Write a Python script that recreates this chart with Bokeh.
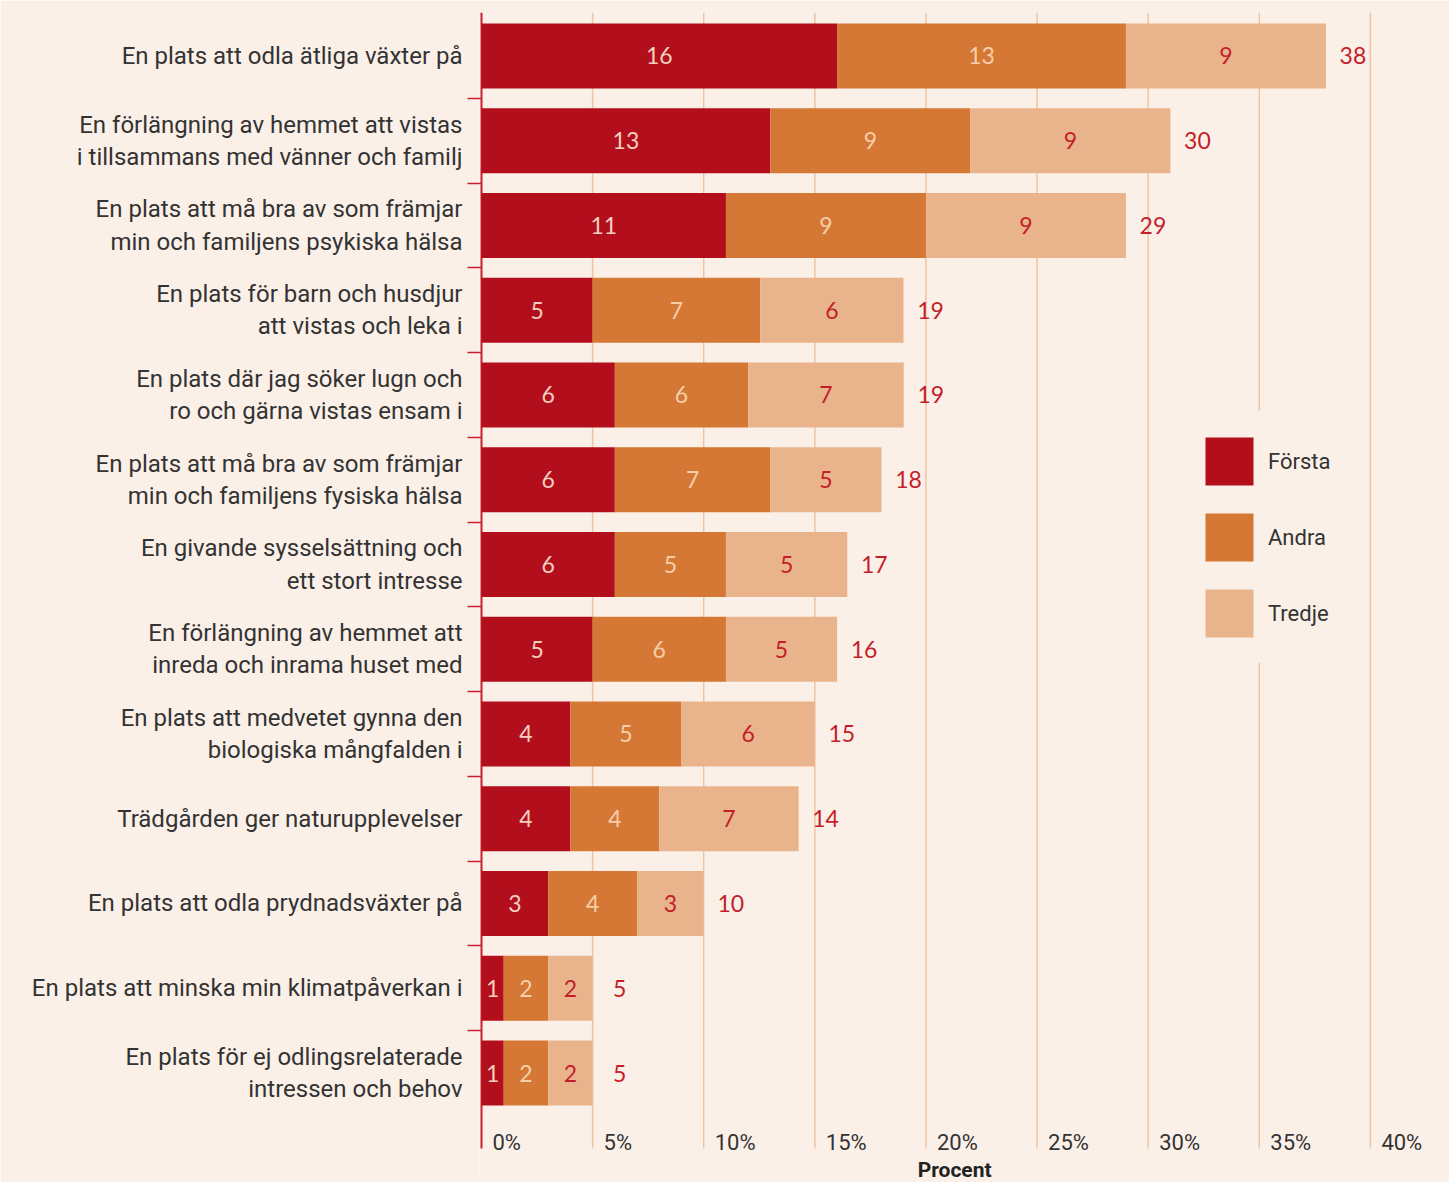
from bokeh.plotting import figure
from bokeh.models import (ColumnDataSource, FixedTicker, Range1d, Legend, LegendItem)
from bokeh.embed import file_html
from bokeh.resources import INLINE
from bokeh.core.properties import value

# ---------------- data ----------------
categories = [
    "En plats att odla ätliga växter på",
    "En förlängning av hemmet att vistas\ni tillsammans med vänner och familj",
    "En plats att må bra av som främjar\nmin och familjens psykiska hälsa",
    "En plats för barn och husdjur\natt vistas och leka i",
    "En plats där jag söker lugn och\nro och gärna vistas ensam i",
    "En plats att må bra av som främjar\nmin och familjens fysiska hälsa",
    "En givande sysselsättning och\nett stort intresse",
    "En förlängning av hemmet att\ninreda och inrama huset med",
    "En plats att medvetet gynna den\nbiologiska mångfalden i",
    "Trädgården ger naturupplevelser",
    "En plats att odla prydnadsväxter på",
    "En plats att minska min klimatpåverkan i",
    "En plats för ej odlingsrelaterade\nintressen och behov",
]
forsta = [16.0, 13.0, 11.0, 5.0, 6.0, 6.0, 6.0, 5.0, 4.0, 4.0, 3.0, 1.0, 1.0]
andra = [13.0, 9.0, 9.0, 7.54, 6.0, 7.0, 5.0, 6.0, 5.0, 4.0, 4.0, 2.0, 2.0]
tredje = [9.0, 9.0, 9.0, 6.45, 7.0, 5.0, 5.46, 5.0, 6.0, 6.27, 3.0, 2.0, 2.0]
forsta_labels = ["16", "13", "11", "5", "6", "6", "6", "5", "4", "4", "3", "1", "1"]
andra_labels = ["13", "9", "9", "7", "6", "7", "5", "6", "5", "4", "4", "2", "2"]
tredje_labels = ["9", "9", "9", "6", "7", "5", "5", "5", "6", "7", "3", "2", "2"]
total_labels = ["38", "30", "29", "19", "19", "18", "17", "16", "15", "14", "10", "5", "5"]
series_names = ["Första", "Andra", "Tredje"]
x_ticks = [0, 5, 10, 15, 20, 25, 30, 35, 40]
x_tick_labels = ["0%", "5%", "10%", "15%", "20%", "25%", "30%", "35%", "40%"]
x_title = "Procent"

# ---------------- style ----------------
BG = "#FBF0E8"
C1, C2, C3 = "#B30E1B", "#D57835", "#E9B48C"
RED_TXT = "#C41E2A"
GRID = "#F0C4A2"
AXIS_RED = "#C8202B"
DARK = "#333333"
SANS = "Roboto"
NUMF = "Lato"

n = len(categories)
ys = list(range(n))
ends2 = [a + b for a, b in zip(forsta, andra)]
ends3 = [a + b + c for a, b, c in zip(forsta, andra, tredje)]

# vertical extent of the plotting band (in row units) and layout helpers
ROW_TOP, ROW_BOTTOM = -0.513, 12.891
TICK_ROW = 12.82
TITLE_ROW = 13.139

src = ColumnDataSource(dict(
    y=ys, forsta=forsta, andra=andra, tredje=tredje,
    c1=[v / 2 for v in forsta],
    c2=[f + a / 2 for f, a in zip(forsta, andra)],
    c3=[e + t / 2 for e, t in zip(ends2, tredje)],
    end=ends3,
    l1=forsta_labels, l2=andra_labels, l3=tredje_labels, lt=total_labels,
))

p = figure(width=1449, height=1182, output_backend="svg", toolbar_location=None,
           x_range=Range1d(-0.0902, 43.56), y_range=Range1d(13.292, ROW_TOP),
           x_axis_location=None, y_axis_location="left",
           min_border_left=479, min_border_right=0, min_border_top=12,
           min_border_bottom=0)
p.background_fill_color = BG
p.border_fill_color = BG
p.outline_line_color = None
p.ygrid.visible = False
p.xgrid.visible = False

# vertical gridlines and the red zero line
p.segment(x0=x_ticks[1:], x1=x_ticks[1:], y0=[ROW_TOP] * 8, y1=[ROW_BOTTOM] * 8,
          line_color=GRID, line_width=1.5)
p.segment(x0=[0], x1=[0], y0=[ROW_TOP], y1=[ROW_BOTTOM], line_color=AXIS_RED, line_width=2)

bar_h = 0.767
rs = p.hbar_stack(["forsta", "andra", "tredje"], y="y", height=bar_h,
                  color=[C1, C2, C3], line_width=0, source=src)

common = dict(text_baseline="middle", text_font=value(NUMF), text_font_size="23px",
              text_align="center", source=src)
p.text(x="c1", y="y", text="l1", text_color="#F5CFC0", **common)
p.text(x="c2", y="y", text="l2", text_color="#F6CFAA", **common)
p.text(x="c3", y="y", text="l3", text_color=RED_TXT, **common)
p.text(x="end", y="y", text="lt", text_color=RED_TXT, x_offset=27, **common)

# x tick labels, right of each gridline near its lower end
tick_src = ColumnDataSource(dict(x=x_ticks, y=[TICK_ROW] * len(x_ticks), t=x_tick_labels))
p.text(x="x", y="y", text="t", source=tick_src, x_offset=11, text_align="left",
       text_baseline="middle", text_font=value(SANS), text_font_size="22px",
       text_color=DARK)

p.text(x=[21.29], y=[TITLE_ROW], text=[x_title], text_align="center",
       text_baseline="middle", text_font=value(SANS), text_font_size="21px",
       text_font_style="bold", text_color="#222222")

# y axis (category labels + boundary ticks)
ax = p.yaxis[0]
ax.ticker = FixedTicker(ticks=ys, minor_ticks=[i + 0.5 for i in range(n - 1)])
ax.major_label_overrides = {i: c for i, c in zip(ys, categories)}
ax.major_tick_out = 0
ax.major_tick_in = 0
ax.major_tick_line_color = None
ax.minor_tick_out = 12
ax.minor_tick_in = 2
ax.minor_tick_line_color = AXIS_RED
ax.minor_tick_line_width = 1.5
ax.axis_line_color = None
ax.major_label_standoff = 5
ax.major_label_text_font = SANS
ax.major_label_text_font_size = "24px"
ax.major_label_text_color = DARK
ax.major_label_text_line_height = 1.15

legend = Legend(items=[LegendItem(label=nm, renderers=[r]) for nm, r in zip(series_names, rs)],
                location=(700, 519), glyph_width=60, glyph_height=60, spacing=16,
                padding=2, margin=0, label_standoff=9,
                label_text_font=SANS, label_text_font_size="22px",
                label_text_color=DARK, label_text_baseline="middle",
                background_fill_color=BG, background_fill_alpha=1.0,
                border_line_color=BG, border_line_width=18)
p.add_layout(legend)

html = file_html(p, INLINE)
html = html.replace("<body>", '<body style="background:%s">' % BG, 1)
open("out.html", "w").write(html)
